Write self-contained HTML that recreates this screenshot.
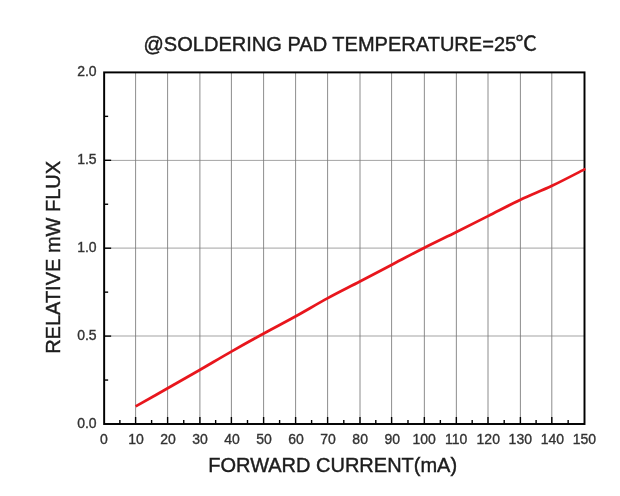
<!DOCTYPE html>
<html lang="en">
<head>
<meta charset="utf-8">
<title>Relative mW Flux vs Forward Current</title>
<style>
html,body{margin:0;padding:0;background:#fff;}
body{width:620px;height:496px;overflow:hidden;}
svg{display:block;}
text{font-family:"Liberation Sans","Noto Sans CJK SC",sans-serif;}
.tk{font-size:14px;fill:#333;stroke:#333;stroke-width:0.35px;}
.lb{font-size:20px;fill:#1c1c1c;stroke:#1c1c1c;stroke-width:0.42px;}
</style>
</head>
<body>
<svg width="620" height="496" viewBox="0 0 620 496">
<defs>
<filter id="soft" x="0" y="0" width="620" height="496" filterUnits="userSpaceOnUse"><feGaussianBlur stdDeviation="0.5"/></filter>
<filter id="softc" x="0" y="0" width="620" height="496" filterUnits="userSpaceOnUse"><feGaussianBlur stdDeviation="0.6"/></filter>
<filter id="soft3" x="0" y="0" width="620" height="496" filterUnits="userSpaceOnUse"><feGaussianBlur stdDeviation="0.3"/></filter>
<filter id="soft2" x="0" y="0" width="620" height="496" filterUnits="userSpaceOnUse"><feGaussianBlur stdDeviation="0.3"/></filter>
</defs>
<rect x="0" y="0" width="620" height="496" fill="#ffffff"/>

<g fill="none" filter="url(#soft3)">
<line x1="135.60" y1="72.4" x2="135.60" y2="424.0" stroke="#6e6e6e" stroke-width="0.8"/>
<line x1="167.60" y1="72.4" x2="167.60" y2="424.0" stroke="#6e6e6e" stroke-width="0.8"/>
<line x1="199.90" y1="72.4" x2="199.90" y2="424.0" stroke="#6e6e6e" stroke-width="0.8"/>
<line x1="231.40" y1="72.4" x2="231.40" y2="424.0" stroke="#6e6e6e" stroke-width="0.8"/>
<line x1="263.60" y1="72.4" x2="263.60" y2="424.0" stroke="#6e6e6e" stroke-width="0.8"/>
<line x1="295.60" y1="72.4" x2="295.60" y2="424.0" stroke="#6e6e6e" stroke-width="0.8"/>
<line x1="327.60" y1="72.4" x2="327.60" y2="424.0" stroke="#6e6e6e" stroke-width="0.8"/>
<line x1="360.00" y1="72.4" x2="360.00" y2="424.0" stroke="#6e6e6e" stroke-width="0.8"/>
<line x1="391.60" y1="72.4" x2="391.60" y2="424.0" stroke="#6e6e6e" stroke-width="0.8"/>
<line x1="424.35" y1="72.4" x2="424.35" y2="424.0" stroke="#6e6e6e" stroke-width="0.8"/>
<line x1="456.35" y1="72.4" x2="456.35" y2="424.0" stroke="#6e6e6e" stroke-width="0.8"/>
<line x1="488.00" y1="72.4" x2="488.00" y2="424.0" stroke="#6e6e6e" stroke-width="0.8"/>
<line x1="520.40" y1="72.4" x2="520.40" y2="424.0" stroke="#6e6e6e" stroke-width="0.8"/>
<line x1="551.80" y1="72.4" x2="551.80" y2="424.0" stroke="#6e6e6e" stroke-width="0.8"/>
<line x1="104.15" y1="160.40" x2="584.5" y2="160.40" stroke="#7c7c7c" stroke-width="0.7"/>
<line x1="104.15" y1="248.10" x2="584.5" y2="248.10" stroke="#7c7c7c" stroke-width="0.7"/>
<line x1="104.15" y1="336.00" x2="584.5" y2="336.00" stroke="#7c7c7c" stroke-width="0.7"/>
</g>
<g filter="url(#soft2)">
<g stroke="#000" stroke-width="1.4" fill="none">
<line x1="119.88" y1="424.0" x2="119.88" y2="420.0"/>
<line x1="151.60" y1="424.0" x2="151.60" y2="420.0"/>
<line x1="183.75" y1="424.0" x2="183.75" y2="420.0"/>
<line x1="215.65" y1="424.0" x2="215.65" y2="420.0"/>
<line x1="247.50" y1="424.0" x2="247.50" y2="420.0"/>
<line x1="279.60" y1="424.0" x2="279.60" y2="420.0"/>
<line x1="311.60" y1="424.0" x2="311.60" y2="420.0"/>
<line x1="343.80" y1="424.0" x2="343.80" y2="420.0"/>
<line x1="375.80" y1="424.0" x2="375.80" y2="420.0"/>
<line x1="407.98" y1="424.0" x2="407.98" y2="420.0"/>
<line x1="440.35" y1="424.0" x2="440.35" y2="420.0"/>
<line x1="472.18" y1="424.0" x2="472.18" y2="420.0"/>
<line x1="504.20" y1="424.0" x2="504.20" y2="420.0"/>
<line x1="536.10" y1="424.0" x2="536.10" y2="420.0"/>
<line x1="568.15" y1="424.0" x2="568.15" y2="420.0"/>
<line x1="135.60" y1="424.0" x2="135.60" y2="417.0"/>
<line x1="167.60" y1="424.0" x2="167.60" y2="417.0"/>
<line x1="199.90" y1="424.0" x2="199.90" y2="417.0"/>
<line x1="231.40" y1="424.0" x2="231.40" y2="417.0"/>
<line x1="263.60" y1="424.0" x2="263.60" y2="417.0"/>
<line x1="295.60" y1="424.0" x2="295.60" y2="417.0"/>
<line x1="327.60" y1="424.0" x2="327.60" y2="417.0"/>
<line x1="360.00" y1="424.0" x2="360.00" y2="417.0"/>
<line x1="391.60" y1="424.0" x2="391.60" y2="417.0"/>
<line x1="424.35" y1="424.0" x2="424.35" y2="417.0"/>
<line x1="456.35" y1="424.0" x2="456.35" y2="417.0"/>
<line x1="488.00" y1="424.0" x2="488.00" y2="417.0"/>
<line x1="520.40" y1="424.0" x2="520.40" y2="417.0"/>
<line x1="551.80" y1="424.0" x2="551.80" y2="417.0"/>
<line x1="104.15" y1="380.05" x2="108.15" y2="380.05"/>
<line x1="104.15" y1="336.10" x2="111.15" y2="336.10"/>
<line x1="104.15" y1="292.15" x2="108.15" y2="292.15"/>
<line x1="104.15" y1="248.20" x2="111.15" y2="248.20"/>
<line x1="104.15" y1="204.25" x2="108.15" y2="204.25"/>
<line x1="104.15" y1="160.30" x2="111.15" y2="160.30"/>
<line x1="104.15" y1="116.35" x2="108.15" y2="116.35"/>
</g>
<rect x="104.15" y="72.4" width="480.35" height="351.60" fill="none" stroke="#000" stroke-width="1.95"/>
</g>
<path d="M135.63,406.35 C140.97,403.33 156.98,394.32 167.66,388.25 C178.34,382.19 189.01,376.10 199.69,369.95 C210.37,363.79 221.04,357.40 231.72,351.32 C242.40,345.25 253.07,339.33 263.75,333.49 C274.43,327.64 285.10,322.13 295.78,316.23 C306.46,310.34 317.13,303.90 327.81,298.12 C338.49,292.34 349.16,287.11 359.84,281.54 C370.52,275.97 381.19,270.29 391.87,264.69 C402.55,259.09 413.22,253.36 423.90,247.93 C434.58,242.51 445.25,237.46 455.93,232.16 C466.61,226.86 477.28,221.49 487.96,216.12 C498.64,210.76 509.31,205.02 519.99,199.97 C530.67,194.92 541.12,190.98 552.02,185.80 C562.92,180.62 579.84,171.71 585.40,168.89" fill="none" stroke="#e8161f" stroke-width="2.75" stroke-linejoin="round" filter="url(#softc)"/>
<g filter="url(#soft)">
<text class="tk" transform="translate(103.90,443.50) scale(1,1.08)" text-anchor="middle">0</text>
<text class="tk" transform="translate(135.93,443.50) scale(1,1.08)" text-anchor="middle">10</text>
<text class="tk" transform="translate(167.96,443.50) scale(1,1.08)" text-anchor="middle">20</text>
<text class="tk" transform="translate(199.99,443.50) scale(1,1.08)" text-anchor="middle">30</text>
<text class="tk" transform="translate(232.02,443.50) scale(1,1.08)" text-anchor="middle">40</text>
<text class="tk" transform="translate(264.05,443.50) scale(1,1.08)" text-anchor="middle">50</text>
<text class="tk" transform="translate(296.08,443.50) scale(1,1.08)" text-anchor="middle">60</text>
<text class="tk" transform="translate(328.11,443.50) scale(1,1.08)" text-anchor="middle">70</text>
<text class="tk" transform="translate(360.14,443.50) scale(1,1.08)" text-anchor="middle">80</text>
<text class="tk" transform="translate(392.17,443.50) scale(1,1.08)" text-anchor="middle">90</text>
<text class="tk" transform="translate(424.20,443.50) scale(1,1.08)" text-anchor="middle">100</text>
<text class="tk" transform="translate(456.23,443.50) scale(1,1.08)" text-anchor="middle">110</text>
<text class="tk" transform="translate(488.26,443.50) scale(1,1.08)" text-anchor="middle">120</text>
<text class="tk" transform="translate(520.29,443.50) scale(1,1.08)" text-anchor="middle">130</text>
<text class="tk" transform="translate(552.32,443.50) scale(1,1.08)" text-anchor="middle">140</text>
<text class="tk" transform="translate(584.35,443.50) scale(1,1.08)" text-anchor="middle">150</text>
<text class="tk" transform="translate(96.60,428.00) scale(1,1.08)" text-anchor="end">0.0</text>
<text class="tk" transform="translate(96.60,340.10) scale(1,1.08)" text-anchor="end">0.5</text>
<text class="tk" transform="translate(96.60,252.20) scale(1,1.08)" text-anchor="end">1.0</text>
<text class="tk" transform="translate(96.60,164.30) scale(1,1.08)" text-anchor="end">1.5</text>
<text class="tk" transform="translate(96.60,76.40) scale(1,1.08)" text-anchor="end">2.0</text>
<text class="lb" transform="translate(143.50,51.30) scale(1,1.04)" text-anchor="start" style="font-size:20.04px">@SOLDERING PAD TEMPERATURE=25<tspan dx="-0.7" textLength="21.4" lengthAdjust="spacingAndGlyphs">℃</tspan></text>
<text class="lb" transform="translate(332.70,471.50) scale(1,0.99)" text-anchor="middle">FORWARD CURRENT(mA)</text>
<text class="lb" transform="translate(59.70,257.40) rotate(-90) scale(1,1.03)" text-anchor="middle">RELATIVE mW FLUX</text>
</g>
</svg>
</body>
</html>
